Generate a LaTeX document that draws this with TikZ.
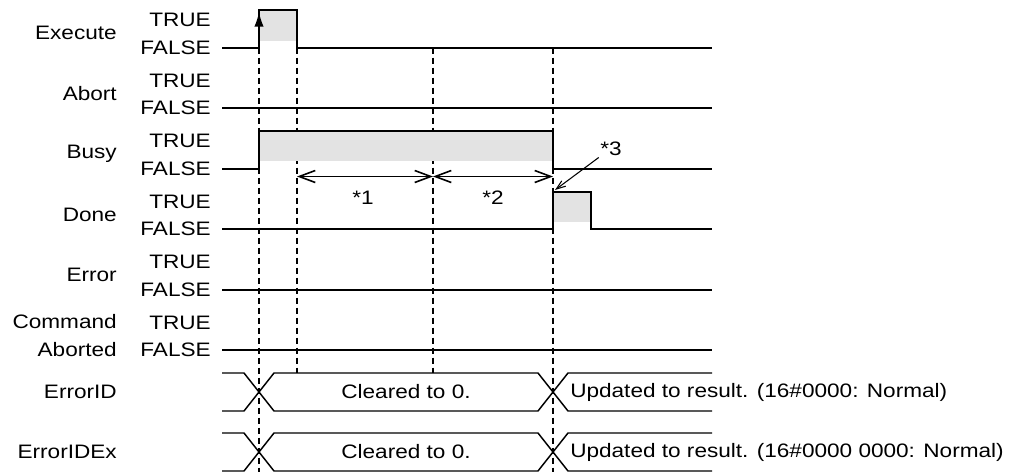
\documentclass[tikz,border=0pt]{standalone}
\usepackage{fontspec}
\setmainfont{Liberation Sans}[FakeStretch=1.16]
\usepackage{tikz}
\usetikzlibrary{arrows.meta}

\begin{document}
\begin{tikzpicture}[
    x=0.75pt, y=-0.75pt,
    font=\fontsize{14.6}{17}\selectfont,
    wave/.style={line width=1.5pt,line join=miter},
    flat/.style={line width=1.25pt},
    bus/.style={line width=1.1pt},
    hi/.style={fill=black!11},
    guide/.style={line width=0.9pt,dash pattern=on 4.5pt off 3pt},
    span/.style={{Straight Barb[length=12pt,width=9pt]}-{Straight Barb[length=12pt,width=9pt]},
                 line width=1.2pt},
    note/.style={-{Straight Barb[length=7pt,width=5pt]},line width=0.8pt},
    sig/.style={anchor=east,inner sep=0pt,align=right,
                font=\fontsize{14.6}{21}\selectfont},
    lvl/.style={anchor=east,inner sep=0pt},
  ]
  \useasboundingbox (0,0) rectangle (1029,472);

  % Pixel grid: rows are 60.5 apart, high level 37.5 above low.
  % Time marks: 259 start, 297, 433, 553 done, 591.

  % --- signal names and levels ---
  \foreach \sname/\y in {Execute/47.5,Abort/108,Busy/168.5,Done/229,Error/289.5}{
    \node[sig] (n-\sname) at (117,\y-14.5) {\sname};
    \node[lvl] (t-\sname) at (211,\y-27.5) {TRUE};
    \node[lvl] (f-\sname) at (211,\y) {FALSE};
  }
  \node[sig] (n-cmd) at (117,336) {Command\\Aborted};
  \node[lvl] (t-cmd) at (211,322.5) {TRUE};
  \node[lvl] (f-cmd) at (211,350) {FALSE};
  \node[sig] (n-eid)  at (117,392) {ErrorID};
  \node[sig] (n-eidx) at (117,452) {ErrorIDEx};

  % --- time guides ---
  \coordinate (g0) at (259,47.5);  \coordinate (g0b) at (259,472);
  \coordinate (g1) at (297,47.5);  \coordinate (g1b) at (297,373);
  \coordinate (g2) at (433,47.5);  \coordinate (g2b) at (433,373);
  \coordinate (g3) at (553,47.5);  \coordinate (g3b) at (553,472);
  \draw[guide] (g0) -- (g0b);
  \draw[guide] (g1) -- (g1b);
  \draw[guide] (g2) -- (g2b);
  \draw[guide] (g3) -- (g3b);

  % --- Execute ---
  \fill[hi] (259,10) rectangle (297,40.5);
  \draw[wave] (222,47.5) -- (259,47.5) -- (259,10) -- (297,10) -- (297,47.5) -- (712,47.5);
  \draw[-{Latex[length=11pt,width=7pt]},line width=1.2pt] (259,40) -- (259,12);

  % --- Abort ---
  \draw[flat] (222,108) -- (712,108);

  % --- Busy ---
  \fill[hi] (259,131) rectangle (553,161);
  \draw[wave] (222,168.5) -- (259,168.5) -- (259,131) -- (553,131) -- (553,168.5) -- (712,168.5);

  % --- Done ---
  \fill[hi] (553,191.5) rectangle (591,221.5);
  \draw[wave] (222,229) -- (553,229) -- (553,191.5) -- (591,191.5) -- (591,229) -- (712,229);

  % --- Error / CommandAborted ---
  \draw[wave] (222,289.5) -- (712,289.5);
  \draw[flat] (222,350) -- (712,350);

  % --- ErrorID / ErrorIDEx buses ---
  \draw[bus] (222,373) -- (244,373) -- (274,411) -- (538,411) -- (568,373) -- (712,373);
  \draw[bus] (222,411) -- (244,411) -- (274,373) -- (538,373) -- (568,411) -- (712,411);
  \draw[bus] (222,433) -- (244,433) -- (274,471) -- (538,471) -- (568,433) -- (712,433);
  \draw[bus] (222,471) -- (244,471) -- (274,433) -- (538,433) -- (568,471) -- (712,471);
  \node (clr-id)  at (406,392) {Cleared to 0.};
  \node (clr-idx) at (406,452) {Cleared to 0.};
  \node[anchor=west,inner sep=0pt] (upd-id)  at (570,392) {Updated to result. (16\#0000: Normal)};
  \node[anchor=west,inner sep=0pt] (upd-idx) at (570,452) {Updated to result. (16\#0000 0000: Normal)};

  % --- intervals *1, *2 and note *3 ---
  \coordinate (w1) at (297,176.5);
  \coordinate (w2) at (433,176.5);
  \coordinate (w3) at (553,176.5);
  \draw[span] (w1) -- (w2);
  \draw[span] (w2) -- (w3);
  \node (s1) at (363,198) {*1};
  \node (s2) at (493,198) {*2};
  \node[inner sep=1pt] (s3) at (611,149) {*3};
  \coordinate (done-up) at (555,190);
  \draw[note] (s3.south west) -- (done-up);

\end{tikzpicture}
\end{document}
